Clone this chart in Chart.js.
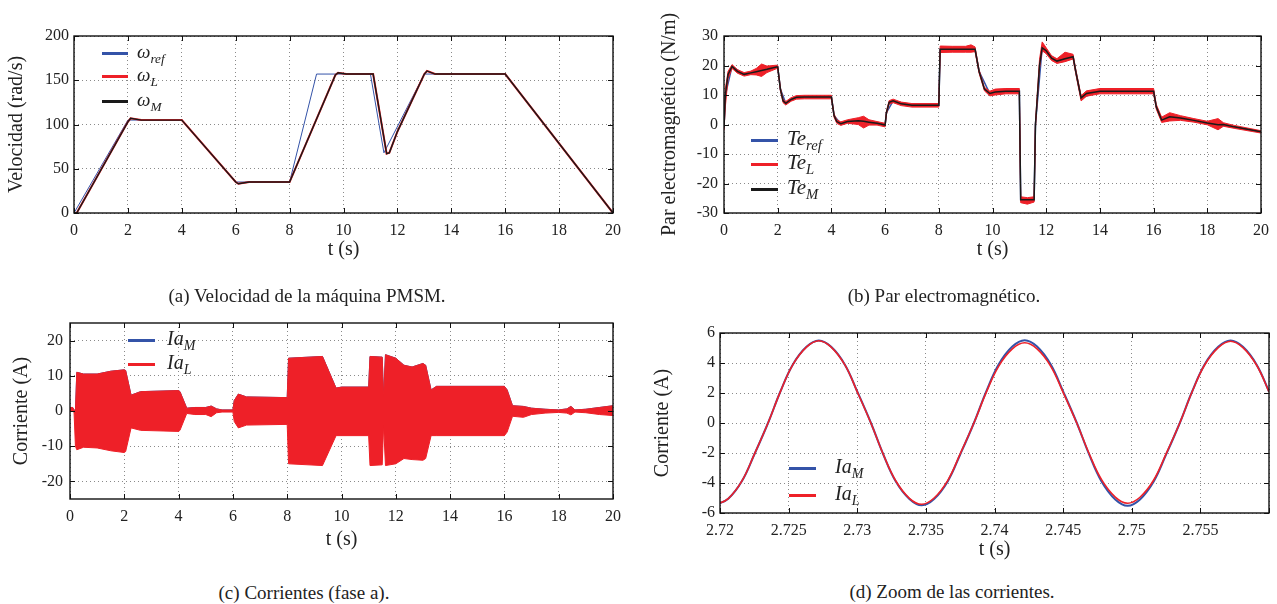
<!DOCTYPE html>
<html>
<head>
<meta charset="utf-8">
<script src="https://cdn.jsdelivr.net/npm/chart.js@4.4.0/dist/chart.umd.min.js"></script>
<style>
  body { margin: 0; background: #fff; width: 1277px; height: 604px; position: relative; overflow: hidden;
         font-family: 'Liberation Serif', 'DejaVu Serif', serif; color: #222; }
  canvas { position: absolute; }
  .cap { position: absolute; font-size: 19px; transform: translate(-50%, -50%); white-space: nowrap; }
  .row { position: absolute; display: flex; align-items: center; height: 0; line-height: 1; font-style: italic; }
  .sw { display: inline-block; height: 3px; }
  sub { font-size: 70%; vertical-align: -0.35em; }
</style>
</head>
<body>
<canvas id="velChart" width="630" height="270" style="left:0;top:0"></canvas>
<canvas id="teChart" width="637" height="270" style="left:640px;top:0"></canvas>
<canvas id="iaChart" width="630" height="270" style="left:0;top:290px"></canvas>
<canvas id="zoomChart" width="637" height="275" style="left:640px;top:290px"></canvas>

<!-- legends -->
<div class="row" style="left:102px;top:53px;font-size:19px"><span class="sw" style="width:26px;background:#3453a8;margin-right:9px"></span><span>ω<sub>ref</sub></span></div>
<div class="row" style="left:102px;top:76px;font-size:19px"><span class="sw" style="width:26px;background:#ee2028;margin-right:9px"></span><span>ω<sub>L</sub></span></div>
<div class="row" style="left:102px;top:101px;font-size:19px"><span class="sw" style="width:26px;background:#1a1a1a;margin-right:9px"></span><span>ω<sub>M</sub></span></div>

<div class="row" style="left:751px;top:140px;font-size:21px"><span class="sw" style="width:27px;background:#3453a8;margin-right:9px"></span><span>Te<sub>ref</sub></span></div>
<div class="row" style="left:751px;top:164px;font-size:21px"><span class="sw" style="width:27px;background:#ee2028;margin-right:9px"></span><span>Te<sub>L</sub></span></div>
<div class="row" style="left:751px;top:189px;font-size:21px"><span class="sw" style="width:27px;background:#1a1a1a;margin-right:9px"></span><span>Te<sub>M</sub></span></div>

<div class="row" style="left:128px;top:340px;font-size:20px"><span class="sw" style="width:27px;background:#3453a8;margin-right:12px"></span><span>Ia<sub>M</sub></span></div>
<div class="row" style="left:128px;top:364px;font-size:20px"><span class="sw" style="width:27px;background:#ee2028;margin-right:12px"></span><span>Ia<sub>L</sub></span></div>

<div class="row" style="left:789px;top:468px;font-size:20px"><span class="sw" style="width:27px;background:#3453a8;margin-right:19px"></span><span>Ia<sub>M</sub></span></div>
<div class="row" style="left:789px;top:495px;font-size:20px"><span class="sw" style="width:27px;background:#ee2028;margin-right:19px"></span><span>Ia<sub>L</sub></span></div>

<!-- captions -->
<div class="cap" style="left:307px;top:296px">(a) Velocidad de la máquina PMSM.</div>
<div class="cap" style="left:944px;top:296px">(b) Par electromagnético.</div>
<div class="cap" style="left:304px;top:593px">(c) Corrientes (fase a).</div>
<div class="cap" style="left:952px;top:592px">(d) Zoom de las corrientes.</div>

<script>
// ---- (a) velocidad ----
const tRef = [0, 2, 4, 6, 8, 9, 11, 11.5, 13, 16, 20];
const wRef = [0, 105, 105, 35, 35, 157, 157, 68, 157, 157, 0];
const tVel = [0, 0.1, 2.0, 2.1, 2.5, 4.0, 6.0, 6.1, 6.5, 8.0, 9.7, 9.8, 10.1, 11.1, 11.6, 11.7, 12.0, 13.0, 13.1, 13.4, 16.0, 20];
const wM   = [0, 0, 103, 107, 105, 105, 35, 33, 35, 35, 156, 158.5, 157, 157, 67, 68, 92, 157, 160.5, 157, 157, 0];
const wL   = [0, 0, 103, 107, 105, 105, 35, 33, 35, 35, 156, 158.5, 157, 157, 67, 68, 92, 157, 160.5, 157, 157, 0];
const yTicksVel = [0, 50, 100, 150, 200];
const yLabelsVel = ['0', '50', '100', '150', '200'];

// ---- (b) par electromagnetico ----
const tTe  = [0, 0.05, 0.15, 0.3, 0.5, 0.75, 1.0, 1.2, 1.4, 1.6, 1.95, 2.0, 2.1, 2.2, 2.3, 2.5, 2.7, 3.0, 4.0, 4.1,
              4.2, 4.35, 4.6, 5.0, 5.2, 5.4, 5.7, 6.0, 6.05, 6.15, 6.3, 6.6, 7.0, 8.0, 8.05, 8.5, 9.0, 9.2, 9.35, 9.5,
              9.7, 9.9, 10.1, 10.5, 11.0, 11.05, 11.3, 11.55, 11.6, 11.75, 11.85, 12.0, 12.2, 12.4, 12.7, 13.0, 13.1, 13.3, 13.5, 14.0,
              16.0, 16.1, 16.3, 16.6, 17.0, 17.5, 18.0, 18.4, 18.6, 19.0, 20.0];
const teM  = [-1, 10, 17, 19.7, 18, 17, 17.5, 17.9, 18.3, 18.7, 19.5, 19.5, 12, 8, 7.2, 8.5, 9.2, 9.3, 9.3, 3,
              1, 0.3, 1, 1.3, 1.1, 0.8, 0.4, -0.2, 4, 7.5, 8, 7, 6.5, 6.5, 25.5, 25.5, 25.5, 25.5, 25.5, 18,
              12, 10.5, 11, 11.3, 11.3, -25.5, -25.5, -25.5, 0, 20, 26, 25, 22.5, 21.5, 22.3, 23, 18, 9, 10.5, 11.3,
              11.3, 6, 1.5, 2.6, 2.2, 1.4, 0.5, -0.1, 0, -0.8, -2.5];
const teUp = [0, 12, 18, 20.3, 18.6, 17.6, 18.1, 19, 20.5, 19.8, 20.1, 20, 12.6, 8.6, 7.8, 9.1, 9.8, 9.9, 9.9, 3.6,
              1.6, 0.9, 1.6, 2.3, 2.8, 1.6, 1, 0.4, 4.6, 8.1, 8.6, 7.6, 7.1, 7.1, 26.6, 26.5, 26.5, 27, 26.3, 18.6,
              12.6, 11.3, 12, 12.2, 12.2, -24.5, -24.8, -24.5, 1, 22, 28, 26, 23.3, 22.3, 24.5, 23.8, 18.8, 9.8, 11.4, 12.2,
              12.2, 6.8, 2.5, 4, 3, 2, 1.1, 2, 0.6, -0.3, -2.1];
const teLo = [-2, 6, 15.5, 19, 17.4, 16.4, 16.9, 16.8, 16.3, 17.6, 18.9, 19, 11.4, 7.4, 6.6, 7.9, 8.6, 8.7, 8.7, 2.4,
              0.4, -0.3, 0.4, 0, -1.2, -0.2, -0.2, -0.8, 3.4, 6.9, 7.4, 6.4, 5.9, 5.9, 24.4, 24.5, 24.5, 24.5, 24.7, 17.4,
              11.4, 9.7, 10, 10.4, 10.4, -26.5, -27, -26.3, -1, 19, 25, 24, 21.7, 20.7, 21.3, 22.2, 17.2, 8, 9.6, 10.4,
              10.4, 5.2, 0.7, 1.2, 1.4, 0.8, -0.1, -1.8, -0.6, -1.3, -2.9];
const tTeRef = [0, 0.05, 0.3, 0.75, 1.95, 2.0, 2.1, 2.3, 2.7, 4.0, 4.1, 4.35, 5.0, 6.0, 6.05, 6.3, 7.0, 8.0, 8.05, 9.35, 9.5, 9.9,
                11.0, 11.05, 11.55, 11.6, 11.85, 12.4, 13.0, 13.1, 13.3, 14.0, 16.0, 16.1, 16.3, 16.6, 18.0, 20.0];
const teRef  = [-1, 10, 19.7, 17, 19.5, 19.5, 12, 7.2, 9.2, 9.3, 3, 0.3, 1.3, -0.2, 4, 8, 6.5, 6.5, 25.5, 25.5, 18, 10.5,
                11.3, -25.5, -25.5, 0, 26, 21.5, 23, 18, 9, 11.3, 11.3, 6, 1.5, 2.6, 0.5, -2.5];
const yTicksTe = [-30, -20, -10, 0, 10, 20, 30];
const yLabelsTe = ['-30', '-20', '-10', '0', '10', '20', '30'];

// ---- (c) corrientes (envolvente de la fase a) ----
const tIa  = [0, 0.1, 0.15, 0.2, 0.25, 0.5, 1.0, 1.5, 2.0, 2.05, 2.25, 2.6, 4.0, 4.05, 4.3, 4.6, 5.0, 5.2, 5.4, 5.6,
              6.0, 6.05, 6.2, 6.5, 8.0, 8.05, 9.3, 9.8, 10.0, 11.0, 11.05, 11.5, 11.55, 11.62, 12.0, 12.3, 12.6, 13.0, 13.1, 13.3,
              13.5, 16.0, 16.1, 16.3, 16.7, 17.0, 17.5, 18.0, 18.3, 18.45, 18.6, 19.0, 19.5, 20];
const iaUp = [1, 1, 0.3, 0, 11, 10.5, 10.5, 11.3, 11.7, 11.5, 4.5, 5.5, 5.8, 5.5, 0.8, 1, 1, 1.4, 0.6, 0.3,
              0.3, 3, 4.8, 4, 3.8, 15, 15.5, 6.5, 6.8, 6.8, 15.5, 15.3, 4, 16, 15, 13, 12.5, 13.5, 13, 6,
              7, 7, 6, 1.5, 1.3, 0.8, 0.5, 0.3, 0.6, 1.3, 0.3, 0.5, 1, 1.5];
const iaLo = [0, 0, -0.5, -10, -11, -10.3, -10.5, -11.3, -11.8, -11.5, -4.8, -5.5, -5.8, -5.5, -0.7, -1, -1, -1.6, -0.5, -0.3,
              -0.3, -3, -4.8, -4, -3.8, -15, -15.5, -7, -7, -7, -15.5, -15.3, -4, -15.5, -15, -13.5, -13.8, -14, -13.5, -7,
              -7, -7, -6, -1.5, -1.8, -1, -0.6, -0.4, -0.6, -1.1, -0.3, -0.5, -1, -1.3];
const yTicksIa = [-20, -10, 0, 10, 20];
const yLabelsIa = ['-20', '-10', '0', '10', '20'];
const xTicksT = [0, 2, 4, 6, 8, 10, 12, 14, 16, 18, 20];
const xLabelsT = ['0', '2', '4', '6', '8', '10', '12', '14', '16', '18', '20'];

// ---- (d) zoom de las corrientes ----
const tZoom = [2.7197, 2.7206, 2.7216, 2.7225, 2.7235, 2.7244, 2.7253, 2.7263, 2.7272, 2.7281, 2.7291, 2.7300,
               2.7310, 2.7319, 2.7328, 2.7338, 2.7347, 2.7356, 2.7366, 2.7375, 2.7385, 2.7394, 2.7403, 2.7413,
               2.7422, 2.7431, 2.7441, 2.7450, 2.7460, 2.7469, 2.7478, 2.7488, 2.7497, 2.7506, 2.7516, 2.7525,
               2.7535, 2.7544, 2.7553, 2.7563, 2.7572, 2.7581, 2.7591, 2.7600, 2.7610];
const iaMz = [-5.45, -5.05, -3.87, -2.1, 0, 2.1, 3.89, 5.08, 5.5, 5.08, 3.89, 2.1,
              0, -2.1, -3.88, -5.06, -5.48, -5.07, -3.88, -2.1, 0, 2.11, 3.9, 5.1,
              5.52, 5.1, 3.9, 2.11, 0, -2.11, -3.9, -5.1, -5.52, -5.1, -3.9, -2.11,
              0, 2.1, 3.89, 5.08, 5.5, 5.08, 3.89, 2.1, 0];
const iaLz = [-5.45, -5.04, -3.86, -2.09, 0, 2.09, 3.88, 5.06, 5.48, 5.06, 3.87, 2.08,
              -0.02, -2.1, -3.85, -5.02, -5.42, -5.0, -3.82, -2.06, 0, 2.04, 3.78, 4.94,
              5.35, 4.94, 3.78, 2.04, -0.02, -2.05, -3.78, -4.94, -5.35, -4.95, -3.8, -2.06,
              0, 2.08, 3.85, 5.03, 5.45, 5.03, 3.85, 2.08, -0.02];
const xTicksZoom = [2.72, 2.725, 2.73, 2.735, 2.74, 2.745, 2.75, 2.755, 2.76];
const xLabelsZoom = ['2.72', '2.725', '2.73', '2.735', '2.74', '2.745', '2.75', '2.755', ''];
const yTicksZoom = [-6, -4, -2, 0, 2, 4, 6];
const yLabelsZoom = ['-6', '-4', '-2', '0', '2', '4', '6'];

const BLUE = '#3453a8', RED = '#ee2028', BLACK = '#1a1a1a';

Chart.defaults.font.family = "'Liberation Serif', 'DejaVu Serif', serif";
Chart.defaults.color = '#222';

const pts = (t, v) => t.map((x, i) => ({ x, y: v[i] }));

// matlab-like box with inward tick marks
const frame = {
  id: 'frame',
  afterDatasetsDraw(chart) {
    const { ctx, chartArea: a, scales: { x, y } } = chart;
    ctx.save();
    ctx.strokeStyle = '#111';
    ctx.lineWidth = 1;
    ctx.beginPath();
    x.ticks.forEach(t => {
      const p = Math.round(x.getPixelForValue(t.value)) + 0.5;
      ctx.moveTo(p, a.bottom); ctx.lineTo(p, a.bottom - 5);
      ctx.moveTo(p, a.top); ctx.lineTo(p, a.top + 5);
    });
    y.ticks.forEach(t => {
      const p = Math.round(y.getPixelForValue(t.value)) + 0.5;
      ctx.moveTo(a.left, p); ctx.lineTo(a.left + 5, p);
      ctx.moveTo(a.right, p); ctx.lineTo(a.right - 5, p);
    });
    ctx.stroke();
    ctx.lineWidth = 1.4;
    ctx.strokeRect(a.left, a.top, a.right - a.left, a.bottom - a.top);
    ctx.restore();
  }
};

function axis(kind, ticks, labels, min, max, title, size, tickPad, titlePad) {
  return {
    type: 'linear', min, max,
    afterBuildTicks: s => { s.ticks = ticks.map(v => ({ value: v })); },
    afterFit: s => { if (kind === 'x') s.height = size; else s.width = size; },
    grid: { color: '#8a8a8a', lineWidth: 1, drawTicks: false },
    border: { display: false, dash: [1, 3] },
    ticks: { padding: tickPad, maxRotation: 0, autoSkip: false, font: { size: 16 }, color: '#222',
             callback: (v, i) => labels[i] },
    title: { display: true, text: title, font: { size: 20 }, color: '#222',
             padding: kind === 'x' ? { top: 0, bottom: titlePad } : { top: titlePad, bottom: 0 } }
  };
}

function makeChart(id, datasets, x, y, padding) {
  return new Chart(document.getElementById(id), {
    type: 'line',
    data: { datasets },
    options: {
      responsive: false,
      animation: false,
      devicePixelRatio: 1,
      layout: { padding },
      elements: { point: { radius: 0 } },
      plugins: { legend: { display: false }, tooltip: { enabled: false } },
      scales: { x, y }
    },
    plugins: [frame]
  });
}

// (a)
makeChart('velChart', [
  { data: pts(tVel, wM), borderColor: BLACK, borderWidth: 1.4, tension: 0, order: 0 },
  { data: pts(tVel, wL), borderColor: RED, borderWidth: 2, tension: 0, order: 1 },
  { data: pts(tRef, wRef), borderColor: BLUE, borderWidth: 1, tension: 0, order: 2 }
],
  axis('x', xTicksT, xLabelsT, 0, 20, 't (s)', 57, 8, 8),
  axis('y', yTicksVel, yLabelsVel, 0, 200, 'Velocidad (rad/s)', 74, 5, 5),
  { top: 36, right: 17, left: 0, bottom: 0 });

// (b)
makeChart('teChart', [
  { data: pts(tTe, teM), borderColor: BLACK, borderWidth: 1.5, tension: 0, order: 0 },
  { data: pts(tTe, teUp), borderColor: RED, backgroundColor: RED, borderWidth: 1, tension: 0, fill: '+1', order: 1 },
  { data: pts(tTe, teLo), borderColor: RED, borderWidth: 1, tension: 0, order: 1 },
  { data: pts(tTeRef, teRef), borderColor: BLUE, borderWidth: 1.5, tension: 0, order: 3 }
],
  axis('x', xTicksT, xLabelsT, 0, 20, 't (s)', 57, 8, 8),
  axis('y', yTicksTe, yLabelsTe, -30, 30, 'Par electromagnético (N/m)', 84, 6, 18),
  { top: 36, right: 5, left: 0, bottom: 0 });

// (c)
makeChart('iaChart', [
  { data: pts(tIa, iaUp), borderColor: RED, backgroundColor: RED, borderWidth: 1, tension: 0, fill: '+1', order: 0 },
  { data: pts(tIa, iaLo), borderColor: RED, borderWidth: 1, tension: 0, order: 0 },
  { data: pts(tIa, iaUp), borderColor: BLUE, borderWidth: 1, tension: 0, order: 2 }
],
  axis('x', xTicksT, xLabelsT, 0, 20, 't (s)', 61, 8, 8),
  axis('y', yTicksIa, yLabelsIa, -25, 25, 'Corriente (A)', 70, 7, 10),
  { top: 33, right: 17, left: 0, bottom: 0 });

// (d)
makeChart('zoomChart', [
  { data: pts(tZoom, iaLz), borderColor: RED, borderWidth: 1.6, tension: 0.4, order: 0 },
  { data: pts(tZoom, iaMz), borderColor: BLUE, borderWidth: 2, tension: 0.4, order: 1 }
],
  axis('x', xTicksZoom, xLabelsZoom, 2.72, 2.76, 't (s)', 52, 8, 3),
  axis('y', yTicksZoom, yLabelsZoom, -6, 6, 'Corriente (A)', 80, 5, 11),
  { top: 43, right: 5, left: 0, bottom: 0 });
</script>
</body>
</html>
